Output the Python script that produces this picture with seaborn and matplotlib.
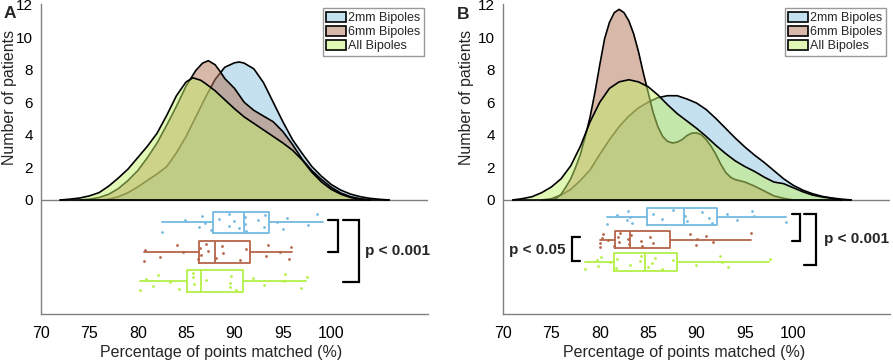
import numpy as np
import matplotlib
matplotlib.use('Agg')
import matplotlib.pyplot as plt
from matplotlib.patches import Patch
import seaborn as sns

# --- density curves (x = % matched, y = number of patients) ---
# panel A
a_2mm_x = [76, 77, 78, 79, 80, 81, 82, 83, 84, 85, 86, 87, 88, 89, 90, 90.5, 91, 92, 93, 94,
           95, 96, 97, 98, 99, 100, 101, 102, 103, 104, 105, 106]
a_2mm_y = [0, 0.05, 0.2, 0.45, 0.8, 1.2, 1.6, 2.05, 2.9, 3.9, 5.1, 6.3, 7.4, 8.15, 8.42, 8.47, 8.4,
           8.05, 7.2, 6.0, 4.8, 3.7, 2.85, 2.05, 1.45, 0.95, 0.6, 0.36, 0.2, 0.1, 0.04, 0]
a_6mm_x = [74, 75, 76, 77, 78, 79, 80, 81, 82, 83, 84, 85, 86, 86.7, 87.3, 88, 88.5, 89, 90, 91,
           92, 93, 94, 95, 96, 97, 98, 99, 100, 101, 102, 103, 104]
a_6mm_y = [0, 0.05, 0.15, 0.35, 0.7, 1.2, 1.8, 2.6, 3.5, 4.6, 5.75, 7.0, 7.95, 8.4, 8.55, 8.3, 7.9,
           7.45, 6.85, 6.0, 5.5, 5.15, 4.8, 4.2, 3.4, 2.5, 1.8, 1.25, 0.78, 0.42, 0.2, 0.07, 0]
a_all_x = [72, 73, 74, 75, 76, 77, 78, 79, 80, 81, 82, 83, 84, 85, 85.7, 86.5, 87, 88, 89, 90,
           91, 92, 93, 94, 95, 96, 97, 98, 99, 100, 101, 102, 103, 104]
a_all_y = [0, 0.05, 0.12, 0.25, 0.45, 0.85, 1.35, 1.9, 2.6, 3.3, 4.1, 5.2, 6.4, 7.25, 7.5, 7.35,
           7.15, 6.7, 6.15, 5.6, 5.1, 4.7, 4.3, 3.9, 3.5, 3.05, 2.45, 1.7, 1.1, 0.65, 0.35, 0.15, 0.05, 0]
# panel B
b_2mm_x = [74, 75, 76, 77, 78, 79, 80, 81, 82, 83, 84, 85, 86, 87, 88, 89, 90, 91, 92, 93, 94,
           95, 96, 97, 98, 99, 100, 101, 102, 103, 104, 105, 106]
b_2mm_y = [0, 0.08, 0.3, 0.65, 1.2, 1.85, 2.8, 3.7, 4.5, 5.15, 5.65, 6.0, 6.28, 6.4, 6.4, 6.2,
           5.95, 5.55, 5.0, 4.4, 3.8, 3.25, 2.75, 2.3, 1.8, 1.3, 0.9, 0.6, 0.38, 0.22, 0.12, 0.05, 0]
b_6mm_x = [75, 75.5, 76, 76.5, 77, 77.5, 78, 78.5, 79, 79.5, 80, 80.5, 81, 81.5, 82, 82.5, 83,
           83.5, 84, 84.5, 85, 85.5, 86, 86.5, 87, 87.5, 88, 88.5, 89, 89.5, 90, 90.5, 91, 91.5,
           92, 92.5, 93, 93.5, 94, 95, 96, 97, 98, 99, 100]
b_6mm_y = [0, 0.1, 0.35, 0.8, 1.3, 2.0, 2.8, 3.9, 5.1, 6.6, 8.3, 9.9, 10.9, 11.5, 11.7, 11.5,
           11.0, 10.2, 9.1, 7.8, 6.6, 5.4, 4.5, 3.9, 3.6, 3.5, 3.55, 3.7, 3.95, 4.1, 4.12, 4.0,
           3.7, 3.3, 2.8, 2.2, 1.7, 1.4, 1.25, 1.1, 0.85, 0.55, 0.25, 0.1, 0]
b_all_x = [71, 72, 73, 74, 75, 76, 77, 78, 79, 80, 81, 82, 83, 84, 85, 86, 87, 88, 89, 90, 91,
           92, 93, 94, 95, 96, 97, 98, 99, 100, 101, 102, 103, 104, 105]
b_all_y = [0, 0.08, 0.2, 0.45, 0.8, 1.3, 2.1, 3.3, 4.8, 6.0, 6.85, 7.25, 7.38, 7.25, 6.95, 6.45,
           5.85, 5.3, 4.85, 4.4, 3.9, 3.35, 2.85, 2.4, 2.05, 1.75, 1.4, 1.1, 1.0, 0.75, 0.5, 0.3,
           0.18, 0.1, 0]

# --- boxplot summaries (whisker low, q1, median, q3, whisker high) ---
a_box_2mm = [82.5, 87.75, 91.0, 93.6, 99.1]
a_box_6mm = [80.65, 86.35, 88.0, 91.6, 95.9]
a_box_all = [80.2, 85.1, 86.5, 90.9, 97.35]
b_box_2mm = [80.7, 84.9, 88.7, 92.1, 99.2]
b_box_6mm = [80.0, 81.6, 83.1, 87.25, 95.6]
b_box_all = [78.5, 81.5, 84.65, 88.0, 97.5]

# --- individual patients ---
a_pts_2mm = [82.5, 84.9, 86.3, 86.6, 86.9, 87.6, 88.4, 89.4, 89.4, 89.9, 90.5, 91.1, 91.1, 91.2,
             92.4, 93.1, 93.2, 94.4, 95.0, 95.4, 97.6, 98.5]
a_pts_6mm = [80.65, 80.75, 82.3, 84.1, 84.7, 86.2, 86.4, 86.5, 87.05, 87.3, 88.05, 88.7, 88.8,
             90.6, 91.2, 93.3, 93.5, 94.7, 95.6, 95.8]
a_pts_all = [80.2, 80.85, 81.6, 82.1, 83.3, 84.3, 85.7, 85.8, 85.7, 87.1, 89.5, 89.6, 89.5, 90.2,
             91.9, 93.0, 95.2, 95.15, 96.9, 97.5]
b_pts_2mm = [80.7, 81.75, 82.8, 82.95, 83.1, 83.3, 85.5, 86.4, 87.6, 88.8, 89.0, 90.6, 91.3,
             91.6, 93.1, 94.2, 95.7, 95.9, 99.2]
b_pts_6mm = [80.0, 80.2, 80.05, 80.3, 80.9, 81.5, 81.9, 82.0, 82.1, 82.95, 83.05, 83.2, 84.25,
             84.35, 85.2, 85.5, 89.3, 90.0, 89.95, 91.0, 91.7, 95.6]
b_pts_all = [78.5, 79.7, 79.85, 80.1, 81.05, 81.7, 81.75, 83.1, 84.25, 84.2, 85.0, 85.7, 85.4,
             86.4, 87.6, 89.9, 92.4, 92.6, 93.3, 97.6]

labels = ['2mm Bipoles', '6mm Bipoles', 'All Bipoles']
fill_cols = [(0.55, 0.76, 0.87, 0.5), (0.70, 0.45, 0.33, 0.5), (0.77, 0.94, 0.42, 0.5)]
box_cols = ['#74b9e0', '#b56548', '#b4f046']
axis_grey = '#808080'

sns.set_style('white')
plt.rcParams['font.family'] = ['Liberation Sans', 'DejaVu Sans']


def jitter(n, h):
    k = np.arange(n)
    return ((k * 0.618034) % 1 - 0.5) * h * 0.85


def bracket(ax, x0, x1, y0, y1):
    # open side at x0, spine at x1
    ax.plot([x0, x1, x1, x0], [y0, y0, y1, y1], color='k', lw=1.6, clip_on=False,
            solid_joinstyle='miter')


def draw_panel(ax, curves, boxes, pts, pos, bh):
    for i, (cx, cy) in enumerate(curves):
        z = 1 + i
        ax.fill_between(cx, cy, 0, color=fill_cols[i], lw=0, zorder=z)
        sns.lineplot(x=cx, y=cy, color='k', lw=1.2, ax=ax, zorder=z + 0.5)
        ax.plot([cx[0], cx[-1]], [0, 0], color='k', lw=1.2, zorder=z + 0.5)
    ax.axhline(0, color=axis_grey, lw=1.0, zorder=0.5)

    for i, b in enumerate(boxes):
        st = dict(whislo=b[0], q1=b[1], med=b[2], q3=b[3], whishi=b[4], fliers=[])
        c = box_cols[i]
        ax.bxp([st], positions=[pos[i]], widths=bh, orientation='horizontal',
               showcaps=False, showfliers=False, manage_ticks=False,
               boxprops=dict(color=c, lw=1.3), medianprops=dict(color=c, lw=1.3),
               whiskerprops=dict(color=c, lw=1.3))
        yy = pos[i] + jitter(len(pts[i]), bh)
        sns.scatterplot(x=pts[i], y=yy, color=c, s=4, linewidth=0, ax=ax, zorder=6)

    ax.set_xlim(70, 110)
    ax.set_ylim(-7, 12)
    ax.set_xticks(np.arange(70, 111, 5))
    ax.set_xticklabels([str(v) for v in range(70, 101, 5)] + ['', ''])
    ax.set_yticks(np.arange(-6, 13, 2))
    ax.set_yticklabels([''] * 3 + [str(v) for v in range(0, 13, 2)])
    ax.tick_params(direction='in', length=4, color=axis_grey, labelsize=11.5,
                   labelcolor='k')
    ax.tick_params(axis='x', pad=9)
    ax.tick_params(axis='y', pad=6, labelsize=11)
    for s in ['top', 'right']:
        ax.spines[s].set_visible(False)
    for s in ['left', 'bottom']:
        ax.spines[s].set_color(axis_grey)
        ax.spines[s].set_linewidth(1.0)
    ax.set_xlabel('Percentage of points matched (%)', fontsize=11.5)
    ax.set_ylabel('Number of patients', fontsize=11.5)

    handles = [Patch(facecolor=fill_cols[i], edgecolor='k', lw=1.2) for i in range(3)]
    leg = ax.legend(handles, labels, loc='upper right', fontsize=9, frameon=True,
                    fancybox=False, borderaxespad=0.3, handlelength=1.6,
                    handleheight=0.9, handletextpad=0.15, labelspacing=0.12,
                    borderpad=0.3)
    leg.get_frame().set_edgecolor(axis_grey)
    leg.get_frame().set_linewidth(1.0)


fig = plt.figure(figsize=(8.93, 3.62), dpi=100)
axA = fig.add_axes([0.0459, 0.1326, 0.4334, 0.855])
axB = fig.add_axes([0.5633, 0.1326, 0.4334, 0.855])

draw_panel(axA, [(a_2mm_x, a_2mm_y), (a_6mm_x, a_6mm_y), (a_all_x, a_all_y)],
           [a_box_2mm, a_box_6mm, a_box_all], [a_pts_2mm, a_pts_6mm, a_pts_all],
           [-1.38, -3.18, -4.99], 1.33)
draw_panel(axB, [(b_2mm_x, b_2mm_y), (b_6mm_x, b_6mm_y), (b_all_x, b_all_y)],
           [b_box_2mm, b_box_6mm, b_box_all], [b_pts_2mm, b_pts_6mm, b_pts_all],
           [-1.02, -2.43, -3.81], 1.05)

axA.xaxis.set_label_coords(0.465, -0.10)
axA.yaxis.set_label_coords(-0.063, 0.70)
axB.xaxis.set_label_coords(0.469, -0.10)
axB.yaxis.set_label_coords(-0.076, 0.70)

# significance brackets
bracket(axA, 99.7, 100.67, -1.23, -3.18)
bracket(axA, 101.25, 102.9, -1.23, -5.06)
axA.text(103.5, -3.15, 'p < 0.001', fontsize=11, fontweight='bold', va='center', ha='left')

bracket(axB, 99.84, 100.7, -0.86, -2.5)
bracket(axB, 101.14, 102.35, -0.86, -3.99)
axB.text(103.2, -2.42, 'p < 0.001', fontsize=11, fontweight='bold', va='center', ha='left',
         clip_on=False)
bracket(axB, 77.96, 77.1, -2.25, -3.74)
axB.text(76.5, -3.05, 'p < 0.05', fontsize=11, fontweight='bold', va='center', ha='right')

fig.text(0.004, 0.962, 'A', fontsize=12.5, fontweight='bold', va='center', ha='left')
fig.text(0.512, 0.960, 'B', fontsize=12.5, fontweight='bold', va='center', ha='left')

fig.savefig('out.png', dpi=100)
